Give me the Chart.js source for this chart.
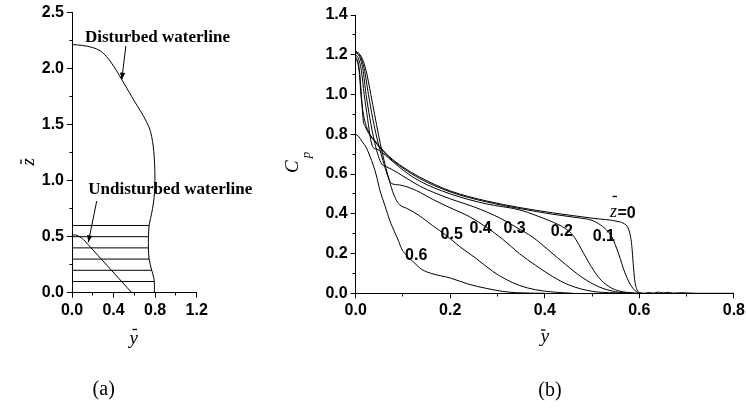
<!DOCTYPE html>
<html><head><meta charset="utf-8">
<script src="https://cdn.jsdelivr.net/npm/chart.js@4.4.1/dist/chart.umd.min.js"></script>
<style>
html,body{margin:0;padding:0;background:#fff;overflow:hidden;}
#wrap{position:relative;width:746px;height:410px;overflow:hidden;background:#fff;}
#ca{position:absolute;left:0;top:0;}
#cb{position:absolute;left:236px;top:0;}
</style></head><body>
<div id="wrap"><canvas id="ca" width="262" height="410"></canvas><canvas id="cb" width="512" height="410"></canvas></div>
<script>
// ---------- tick values ----------
const aXTicks = [0, 0.4, 0.8, 1.2];
const aXMinor = [0.2, 0.6, 1.0];
const aYTicks = [0, 0.5, 1.0, 1.5, 2.0, 2.5];
const aYMinor = [0.25, 0.75, 1.25, 1.75, 2.25];
const bXTicks = [0, 0.2, 0.4, 0.6, 0.8];
const bXMinor = [0.1, 0.3, 0.5, 0.7];
const bYTicks = [0, 0.2, 0.4, 0.6, 0.8, 1.0, 1.2, 1.4];
const bYMinor = [0.1, 0.3, 0.5, 0.7, 0.9, 1.1, 1.3];

// ---------- panel (a) data ----------
const disturbedX = [0,0.1,0.2,0.27,0.33,0.38,0.43,0.48,0.55,0.6,0.66,0.72,0.755,0.775,0.787,0.795,0.798,0.797,0.79,0.775,0.755,0.742,0.736,0.735,0.742,0.767,0.79,0.793];
const disturbedZ = [2.215,2.207,2.188,2.16,2.11,2.05,1.98,1.9,1.79,1.71,1.62,1.52,1.44,1.35,1.26,1.15,1.05,0.95,0.85,0.75,0.66,0.6,0.5,0.4,0.3,0.2,0.12,0];
const sectionZ   = [0.1, 0.2, 0.3, 0.4, 0.5, 0.6];
const sectionEnd = [0.79, 0.767, 0.742, 0.735, 0.736, 0.742];
const undisturbedX = [0, 0.035, 0.062, 0.09, 0.11, 0.575];
const undisturbedZ = [0.515, 0.515, 0.505, 0.49, 0.475, 0];

// ---------- panel (b) data ----------
const levels = ['0', '0.1', '0.2', '0.3', '0.4', '0.5', '0.6'];
const yZ0  = [0,0.004,0.008,0.011,0.015,0.02,0.03,0.04,0.05,0.07,0.1,0.135,0.2,0.276,0.35,0.416,0.5,0.557,0.568,0.576,0.581,0.584,0.587,0.59,0.594,0.6,0.61,0.62,0.63,0.64,0.65,0.66,0.67,0.69,0.72,0.8];
const cpZ0 = [1.18,1.16,1.10,1.0,0.92,0.86,0.80,0.77,0.74,0.69,0.635,0.585,0.515,0.465,0.43,0.405,0.378,0.36,0.35,0.33,0.29,0.24,0.15,0.07,0.025,0.004,0,0.004,0.001,0.006,0.002,0.005,0.001,0.003,0,0];
const yZ1  = [0,0.004,0.008,0.012,0.016,0.02,0.03,0.04,0.05,0.07,0.1,0.135,0.2,0.276,0.35,0.416,0.47,0.5,0.514,0.53,0.542,0.556,0.57,0.584,0.598,0.61];
const cpZ1 = [1.19,1.17,1.12,1.0,0.87,0.84,0.795,0.765,0.735,0.685,0.63,0.578,0.51,0.46,0.425,0.398,0.38,0.367,0.35,0.32,0.283,0.2,0.1,0.033,0.003,0];
const yZ2  = [0,0.006,0.012,0.018,0.025,0.032,0.037,0.045,0.055,0.07,0.1,0.135,0.2,0.276,0.346,0.381,0.41,0.444,0.46,0.472,0.493,0.514,0.535,0.56,0.59,0.6];
const cpZ2 = [1.2,1.18,1.12,1.0,0.88,0.77,0.733,0.725,0.71,0.68,0.62,0.565,0.5,0.45,0.42,0.392,0.365,0.325,0.29,0.245,0.155,0.08,0.035,0.01,0.002,0];
const yZ3  = [0,0.008,0.015,0.022,0.03,0.04,0.048,0.055,0.062,0.075,0.1,0.135,0.2,0.25,0.304,0.339,0.374,0.409,0.444,0.479,0.514,0.549,0.58];
const cpZ3 = [1.21,1.19,1.13,1.0,0.88,0.76,0.69,0.65,0.64,0.625,0.59,0.54,0.475,0.435,0.38,0.333,0.283,0.215,0.145,0.08,0.033,0.008,0];
const yZ4  = [0,0.01,0.018,0.027,0.036,0.045,0.055,0.065,0.072,0.076,0.093,0.128,0.165,0.2,0.241,0.276,0.311,0.346,0.381,0.416,0.451,0.5,0.55,0.58];
const cpZ4 = [1.215,1.19,1.13,1.0,0.88,0.78,0.69,0.61,0.565,0.552,0.545,0.517,0.47,0.43,0.385,0.333,0.272,0.2,0.14,0.085,0.042,0.01,0.002,0];
const yZ5  = [0,0.012,0.022,0.032,0.04,0.048,0.056,0.064,0.072,0.08,0.088,0.093,0.11,0.135,0.163,0.192,0.22,0.255,0.29,0.318,0.346,0.38,0.42,0.46];
const cpZ5 = [1.22,1.19,1.12,1.0,0.9,0.8,0.71,0.63,0.56,0.5,0.46,0.445,0.425,0.39,0.34,0.29,0.235,0.175,0.11,0.07,0.04,0.018,0.006,0];
const yZ6  = [0,0.006,0.013,0.023,0.03,0.037,0.044,0.051,0.062,0.072,0.082,0.09,0.097,0.104,0.112,0.121,0.14,0.16,0.2,0.24,0.276,0.31,0.34,0.4];
const cpZ6 = [0.8,0.79,0.765,0.73,0.69,0.645,0.59,0.52,0.44,0.367,0.31,0.267,0.225,0.2,0.18,0.16,0.12,0.1,0.077,0.045,0.025,0.01,0.003,0];

// curve labels (text and anchor in data units)
const curveLabels = ['0.6', '0.5', '0.4', '0.3', '0.2', '0.1'];
const curveLabelY  = [0.128, 0.203, 0.264, 0.336, 0.436, 0.525];
const curveLabelCp = [0.188, 0.2965, 0.325, 0.325, 0.308, 0.2865];

// ---------- helpers ----------
const pts = (xs, ys) => xs.map((x, i) => ({x: x, y: ys[i]}));
const lineDs = (data, tension, mono) => ({
  data: data, showLine: true, borderColor: '#000', borderWidth: 1, pointRadius: 0,
  fill: false, tension: tension || 0, cubicInterpolationMode: mono ? 'monotone' : 'default'
});
const tickFont = {family: '"Liberation Sans", Arial, sans-serif', size: 16, weight: 'bold'};
function axis(min, max, ticks, fitKey, fitVal) {
  return {
    type: 'linear', min: min, max: max,
    afterBuildTicks: s => { s.ticks = ticks.map(v => ({value: v})); },
    afterFit: s => { s[fitKey] = fitVal; },
    grid: {drawOnChartArea: false, drawTicks: true, tickLength: 5, color: '#000', lineWidth: 1},
    border: {display: true, color: '#000', width: 1},
    ticks: {color: '#000', font: tickFont, padding: 3, autoSkip: false, maxRotation: 0,
            callback: v => Number(v).toFixed(1)}
  };
}
function minorTicks(xMinor, yMinor) {
  return {
    id: 'minorTicks',
    afterDraw(chart) {
      const ctx = chart.ctx, xs = chart.scales.x, ys = chart.scales.y, ca = chart.chartArea;
      const by = Math.round(ca.bottom - 0.5) + 0.5, lx = Math.round(ca.left - 0.5) + 0.5;
      ctx.save(); ctx.strokeStyle = '#000'; ctx.lineWidth = 1; ctx.beginPath();
      xMinor.forEach(v => { const p = Math.round(xs.getPixelForValue(v) - 0.5) + 0.5; ctx.moveTo(p, by); ctx.lineTo(p, by + 3); });
      yMinor.forEach(v => { const p = Math.round(ys.getPixelForValue(v) - 0.5) + 0.5; ctx.moveTo(lx, p); ctx.lineTo(lx - 3, p); });
      ctx.stroke(); ctx.restore();
    }
  };
}
function bar(ctx, x1, x2, y, w) {
  ctx.save(); ctx.lineWidth = w || 1.3; ctx.beginPath(); ctx.moveTo(x1, y); ctx.lineTo(x2, y); ctx.stroke(); ctx.restore();
}
function arrow(ctx, x1, y1, x2, y2) {
  ctx.beginPath(); ctx.moveTo(x1, y1); ctx.lineTo(x2, y2); ctx.stroke();
  const a = Math.atan2(y2 - y1, x2 - x1), L = 7, W = 2.6;
  ctx.beginPath();
  ctx.moveTo(x2, y2);
  ctx.lineTo(x2 - L * Math.cos(a) + W * Math.sin(a), y2 - L * Math.sin(a) - W * Math.cos(a));
  ctx.lineTo(x2 - L * Math.cos(a) - W * Math.sin(a), y2 - L * Math.sin(a) + W * Math.cos(a));
  ctx.closePath(); ctx.fill();
}
const common = {
  responsive: false, animation: false, devicePixelRatio: 1, events: [],
  plugins: {legend: {display: false}, tooltip: {enabled: false}}
};
const serifI = sz => 'italic ' + sz + 'px "Liberation Serif", "Times New Roman", serif';

// ---------- panel (a) ----------
const aDatasets = [lineDs(pts(disturbedX, disturbedZ), 0.3)];
sectionZ.forEach((z, i) => aDatasets.push(lineDs([{x: 0, y: z}, {x: sectionEnd[i], y: z}])));
aDatasets.push(lineDs(pts(undisturbedX, undisturbedZ), 0.2));

const decorA = {
  id: 'decorA',
  afterDraw(chart) {
    const ctx = chart.ctx, xs = chart.scales.x, ys = chart.scales.y;
    const P = (x, y) => [xs.getPixelForValue(x), ys.getPixelForValue(y)];
    ctx.save(); ctx.fillStyle = '#000'; ctx.strokeStyle = '#000'; ctx.lineWidth = 1;
    ctx.font = 'bold 17px "Liberation Serif", "Times New Roman", serif';
    ctx.textAlign = 'left'; ctx.textBaseline = 'middle';
    let p = P(0.125, 2.274); ctx.fillText('Disturbed waterline', p[0], p[1]);
    p = P(0.157, 0.921); ctx.fillText('Undisturbed waterline', p[0], p[1]);
    let q1 = P(0.518, 2.201), q2 = P(0.479, 1.901); arrow(ctx, q1[0], q1[1], q2[0], q2[1]);
    q1 = P(0.238, 0.818); q2 = P(0.157, 0.45); arrow(ctx, q1[0], q1[1], q2[0], q2[1]);
    // axis titles
    ctx.font = serifI(19); ctx.textAlign = 'center'; ctx.textBaseline = 'alphabetic';
    ctx.fillText('y', 133.8, 343.5); bar(ctx, 132.5, 137, 329.5);
    ctx.save(); ctx.translate(33.5, 161.7); ctx.rotate(-Math.PI / 2); ctx.fillText('z', 0, 0); ctx.restore();
    ctx.save(); ctx.lineWidth = 1.3; ctx.beginPath(); ctx.moveTo(21, 159.5); ctx.lineTo(21, 164); ctx.stroke(); ctx.restore();
    ctx.font = '20px "Liberation Serif", "Times New Roman", serif'; ctx.textBaseline = 'middle';
    ctx.fillText('(a)', 103.7, 389.3);
    ctx.restore();
  }
};
new Chart(document.getElementById('ca'), {
  type: 'scatter',
  data: {datasets: aDatasets},
  options: Object.assign({}, common, {
    layout: {padding: {left: 0, top: 9.5, right: 65.3, bottom: 0}},
    scales: {x: axis(0, 1.2, aXTicks, 'height', 117.3), y: axis(0, 2.5, aYTicks, 'width', 72)}
  }),
  plugins: [minorTicks(aXMinor, aYMinor), decorA]
});

// ---------- panel (b) ----------
const series = [[yZ0, cpZ0], [yZ1, cpZ1], [yZ2, cpZ2], [yZ3, cpZ3], [yZ4, cpZ4], [yZ5, cpZ5], [yZ6, cpZ6]];
const bDatasets = series.map((s, i) => Object.assign(lineDs(pts(s[0], s[1]), 0, true), {label: 'z=' + levels[i]}));
const OX = 236;
const decorB = {
  id: 'decorB',
  afterDraw(chart) {
    const ctx = chart.ctx, xs = chart.scales.x, ys = chart.scales.y;
    ctx.save(); ctx.fillStyle = '#000'; ctx.strokeStyle = '#000';
    ctx.font = 'bold 16px "Liberation Sans", Arial, sans-serif';
    ctx.textAlign = 'center'; ctx.textBaseline = 'middle';
    curveLabels.forEach((t, i) => ctx.fillText(t, xs.getPixelForValue(curveLabelY[i]), ys.getPixelForValue(curveLabelCp[i])));
    // z=0 label
    ctx.font = serifI(18); ctx.textAlign = 'center'; ctx.textBaseline = 'alphabetic';
    ctx.fillText('z', 613.5 - OX, 216.8);
    bar(ctx, 612.5 - OX, 617 - OX, 196.5);
    ctx.font = 'bold 16px "Liberation Sans", Arial, sans-serif'; ctx.textAlign = 'left';
    ctx.fillText('=0', 617.5 - OX, 217.5);
    // axis titles
    ctx.font = serifI(19); ctx.textAlign = 'center';
    ctx.fillText('y', 545 - OX, 342); bar(ctx, 541 - OX, 545.5 - OX, 330);
    ctx.textBaseline = 'middle';
    ctx.save(); ctx.translate(292.5 - OX, 166.7); ctx.rotate(-Math.PI / 2); ctx.fillText('C', 0, 0); ctx.restore();
    ctx.font = serifI(13);
    ctx.save(); ctx.translate(307 - OX, 155); ctx.rotate(-Math.PI / 2); ctx.fillText('p', 0, 0); ctx.restore();
    ctx.font = '20px "Liberation Serif", "Times New Roman", serif';
    ctx.fillText('(b)', 550 - OX, 391);
    ctx.restore();
  }
};
new Chart(document.getElementById('cb'), {
  type: 'scatter',
  data: {datasets: bDatasets},
  options: Object.assign({}, common, {
    layout: {padding: {left: 0, top: 15, right: 12.3, bottom: 0}},
    scales: {x: axis(0, 0.8, bXTicks, 'height', 116.7), y: axis(0, 1.4, bYTicks, 'width', 119.7)}
  }),
  plugins: [minorTicks(bXMinor, bYMinor), decorB]
});
</script>
</body></html>
